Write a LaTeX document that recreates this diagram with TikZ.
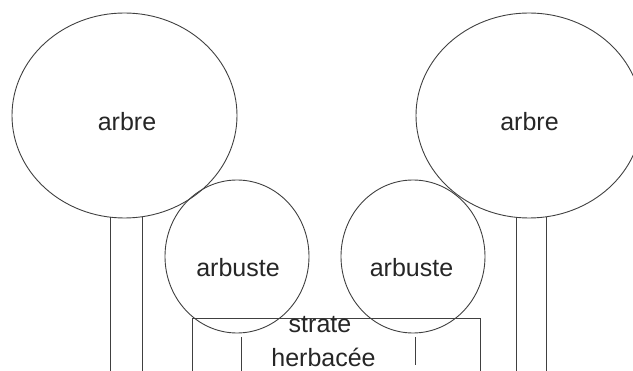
\documentclass[tikz,border=0pt]{standalone}
\usepackage{fontspec}
\setmainfont{Liberation Sans}
\usetikzlibrary{shapes.geometric}
\begin{document}
\begin{tikzpicture}[x=1pt,y=-1pt, line width=0.9pt,
  crown/.style={ellipse, draw=black!75, inner sep=0pt},
  ln/.style={draw=black!75},
  lbl/.style={font=\fontsize{25}{30}\selectfont, text=black!85, anchor=base, inner sep=0pt}]
\useasboundingbox (0,0) rectangle (633,371);
\clip (0,0) rectangle (633,371);
% crowns
\node[crown, minimum width=225pt, minimum height=205pt] (a1) at (124.5,115.5) {};
\node[crown, minimum width=226pt, minimum height=205pt] (a2) at (529,115.5) {};
\node[crown, minimum width=144pt, minimum height=153pt] (b1) at (237,256.5) {};
\node[crown, minimum width=144pt, minimum height=153pt] (b2) at (413,256.5) {};
% herb layer box
\node[draw=black!75, anchor=north west, minimum width=288pt, minimum height=90pt, inner sep=0pt] (h) at (192,318) {};
% trunks
\draw[ln] (110,217.5) -- (110,372);
\draw[ln] (142,217.5) -- (142,372);
\draw[ln] (516,217.5) -- (516,372);
\draw[ln] (546,217.5) -- (546,372);
% shrub stems
\draw[ln] (241,337) -- (241,372);
\draw[ln] (415,337) -- (415,365);
% labels
\node[lbl] (t1) at (127,131) {arbre};
\node[lbl] (t2) at (529.5,131) {arbre};
\node[lbl] (t3) at (238,277) {arbuste};
\node[lbl] (t4) at (411.5,277) {arbuste};
\node[lbl] (t5) at (320,333) {strate};
\node[lbl] (t6) at (323.5,367) {herbacée};
\end{tikzpicture}
\end{document}
